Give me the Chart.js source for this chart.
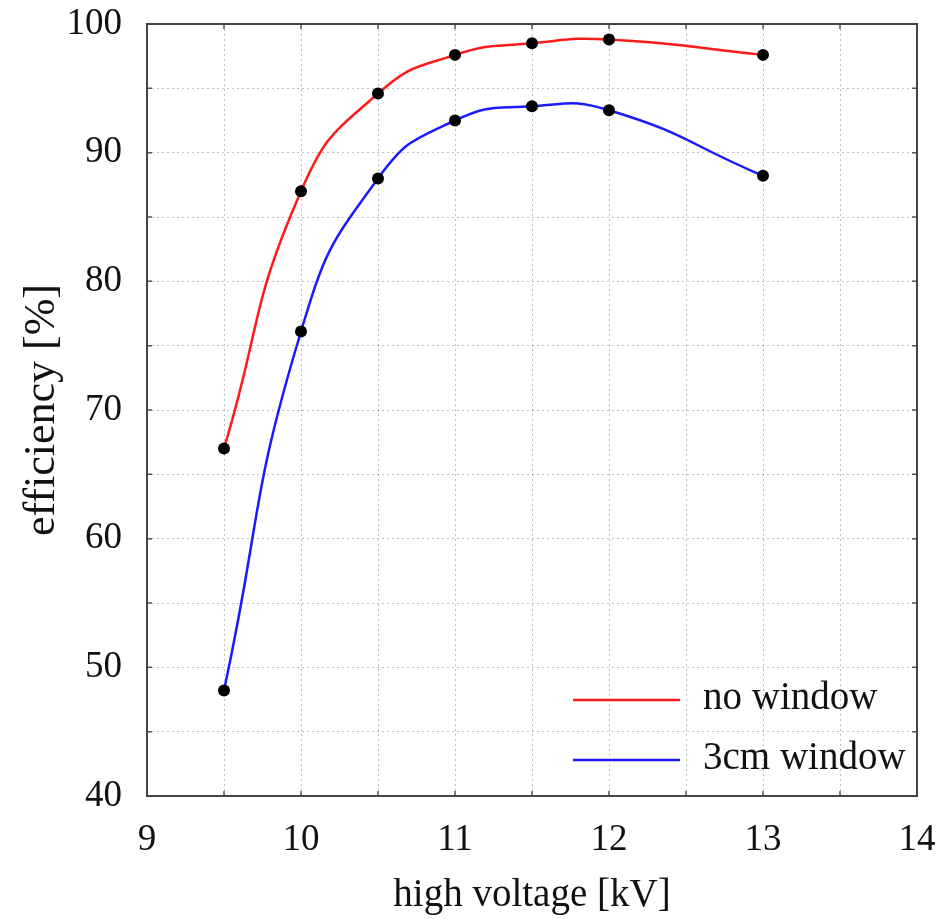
<!DOCTYPE html>
<html>
<head>
<meta charset="utf-8">
<script src="https://cdn.jsdelivr.net/npm/chart.js@4/dist/chart.umd.min.js"></script>
<style>
  html, body { margin: 0; padding: 0; background: #fff; }
  #wrap { width: 946px; height: 919px; position: relative; }
</style>
</head>
<body>
<div id="wrap"><canvas id="c" width="946" height="919"></canvas></div>
<script>
// High voltage settings [kV]
const voltage = [9.5, 10, 10.5, 11, 11.5, 12, 13];
// Efficiency [%] for each configuration
const noWindow = [67.0, 87.0, 94.6, 97.6, 98.5, 98.8, 97.6];
const window3cm = [48.2, 76.1, 88.0, 92.5, 93.6, 93.3, 88.2];
const seriesLabels = ['no window', '3cm window'];
const xTicks = [9, 10, 11, 12, 13, 14];
const yTicks = [40, 50, 60, 70, 80, 90, 100];

const SERIF = '"Liberation Serif", "DejaVu Serif", serif';

const toPoints = (xs, ys) => xs.map((x, i) => ({ x: x, y: ys[i] }));

// Keep the plot frame at a fixed place: no extra room for label overhang
function noOverhang(s) {
  s.paddingTop = 0;
  s.paddingBottom = 0;
  s.paddingLeft = 0;
  s.paddingRight = 0;
}

// Frame, inward tick marks and legend drawn inside the plot area
const framePlugin = {
  id: 'frame',
  afterDatasetsDraw(chart) {
    const { ctx, chartArea: a, scales: { x, y } } = chart;
    ctx.save();
    ctx.strokeStyle = '#555';
    ctx.lineWidth = 1.5;
    for (let v = 9; v <= 14.001; v += 0.5) {
      const px = x.getPixelForValue(v);
      ctx.beginPath();
      ctx.moveTo(px, a.bottom); ctx.lineTo(px, a.bottom - 5);
      ctx.moveTo(px, a.top); ctx.lineTo(px, a.top + 5);
      ctx.stroke();
    }
    for (let v = 40; v <= 100; v += 5) {
      const py = y.getPixelForValue(v);
      ctx.beginPath();
      ctx.moveTo(a.left, py); ctx.lineTo(a.left + 5, py);
      ctx.moveTo(a.right, py); ctx.lineTo(a.right - 5, py);
      ctx.stroke();
    }
    ctx.strokeStyle = '#444';
    ctx.lineWidth = 2;
    ctx.strokeRect(a.left, a.top, a.right - a.left, a.bottom - a.top);

    // legend
    const rows = [
      { label: seriesLabels[0], color: chart.data.datasets[0].borderColor },
      { label: seriesLabels[1], color: chart.data.datasets[1].borderColor }
    ];
    ctx.font = '39px ' + SERIF;
    ctx.textBaseline = 'middle';
    ctx.textAlign = 'left';
    rows.forEach((r, i) => {
      const yy = a.bottom - 96 + i * 60;
      ctx.strokeStyle = r.color;
      ctx.lineWidth = 2.5;
      ctx.beginPath();
      ctx.moveTo(a.left + 426, yy);
      ctx.lineTo(a.left + 533, yy);
      ctx.stroke();
      ctx.fillStyle = '#111';
      ctx.fillText(r.label, a.left + 556, yy - 1);
    });
    ctx.restore();
  }
};

new Chart(document.getElementById('c'), {
  type: 'scatter',
  data: {
    datasets: [
      {
        label: seriesLabels[0],
        data: toPoints(voltage, noWindow),
        showLine: true,
        borderColor: '#ff1a1a',
        borderWidth: 2.5,
        tension: 0.5,
        pointRadius: 6,
        pointBackgroundColor: '#000',
        pointBorderColor: '#000',
        pointBorderWidth: 0
      },
      {
        label: seriesLabels[1],
        data: toPoints(voltage, window3cm),
        showLine: true,
        borderColor: '#1a1aff',
        borderWidth: 2.5,
        tension: 0.5,
        pointRadius: 6,
        pointBackgroundColor: '#000',
        pointBorderColor: '#000',
        pointBorderWidth: 0
      }
    ]
  },
  options: {
    responsive: false,
    animation: false,
    layout: { padding: { top: 24, right: 29, left: 0, bottom: 0 } },
    plugins: { legend: { display: false }, tooltip: { enabled: false } },
    scales: {
      x: {
        type: 'linear',
        min: 9, max: 14,
        afterBuildTicks(s) {
          const t = [];
          for (let v = 9; v <= 14.001; v += 0.5) t.push({ value: v });
          s.ticks = t;
        },
        afterFit(s) { s.height = 123; noOverhang(s); },
        grid: { color: 'rgba(0,0,0,0.25)', lineWidth: 1, drawTicks: false },
        border: { display: false, dash: [2, 3] },
        ticks: {
          padding: 22,
          color: '#111',
          font: { family: SERIF, size: 37 },
          maxRotation: 0,
          autoSkip: false,
          callback: (v) => xTicks.includes(v) ? String(v) : ''
        },
        title: {
          display: true,
          text: 'high voltage [kV]',
          color: '#111',
          font: { family: SERIF, size: 39 },
          padding: { top: 18, bottom: 0 }
        }
      },
      y: {
        min: 40, max: 100,
        afterBuildTicks(s) {
          const t = [];
          for (let v = 40; v <= 100.001; v += 5) t.push({ value: v });
          s.ticks = t;
        },
        afterFit(s) { s.width = 147; noOverhang(s); },
        grid: { color: 'rgba(0,0,0,0.25)', lineWidth: 1, drawTicks: false },
        border: { display: false, dash: [2, 3] },
        ticks: {
          padding: 25,
          color: '#111',
          font: { family: SERIF, size: 37 },
          autoSkip: false,
          callback: (v) => yTicks.includes(v) ? String(v) : ''
        },
        title: {
          display: true,
          text: 'efficiency [%]',
          color: '#111',
          font: { family: SERIF, size: 44 },
          padding: { top: 16, bottom: 0 }
        }
      }
    }
  },
  plugins: [framePlugin]
});
</script>
</body>
</html>
